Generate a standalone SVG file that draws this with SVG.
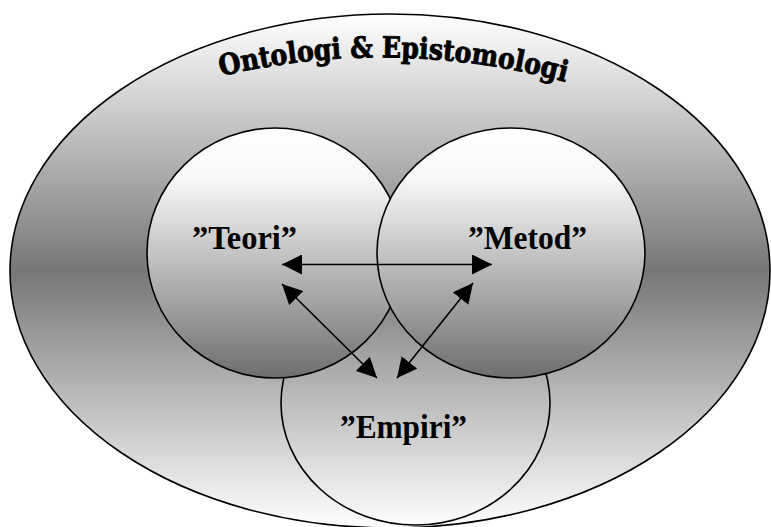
<svg xmlns="http://www.w3.org/2000/svg" width="771" height="527" viewBox="0 0 771 527">
<style>
.outline{stroke:#000;stroke-width:1.6}
.lbl{font-family:"Liberation Serif","Times New Roman",serif;font-weight:bold;font-size:34px;fill:#000}
.title{font-family:"DejaVu Serif","Liberation Serif",serif;font-weight:bold;font-size:29px;fill:#000;stroke:#000;stroke-width:0.9}
.conn{stroke:#000;stroke-width:1.6;fill:none}
</style>
<defs>
<linearGradient id="bgGrad" gradientUnits="userSpaceOnUse" x1="0" y1="14" x2="0" y2="528">
<stop offset="0" stop-color="#ffffff"/>
<stop offset="0.5" stop-color="#777777"/>
<stop offset="1" stop-color="#ffffff"/>
</linearGradient>
<linearGradient id="innerGrad" x1="0" y1="0" x2="0" y2="1">
<stop offset="0" stop-color="#ffffff"/>
<stop offset="0.2" stop-color="#f8f8f8"/>
<stop offset="1" stop-color="#6e6e6e"/>
</linearGradient>
<marker id="ah" markerUnits="userSpaceOnUse" markerWidth="20" markerHeight="20" refX="20" refY="10" orient="auto-start-reverse" viewBox="0 0 20 20">
<path d="M0,0 L20,10 L0,20 z" fill="#000"/>
</marker>
<path id="arc" d="M 221 76 Q 392 36 566 82"/>
</defs>
<g id="outer">
<ellipse cx="390" cy="271" rx="380" ry="257" fill="url(#bgGrad)" class="outline"/>
<text class="title"><textPath href="#arc" startOffset="0" textLength="348" lengthAdjust="spacingAndGlyphs">Ontologi &amp; Epistomologi</textPath></text>
</g>
<g id="empiri">
<ellipse cx="415.5" cy="403" rx="134.5" ry="122" fill="url(#bgGrad)" class="outline"/>
</g>
<g id="teori">
<ellipse cx="275" cy="253" rx="128" ry="125" fill="url(#innerGrad)" class="outline"/>
</g>
<g id="metod">
<ellipse cx="511" cy="253" rx="134" ry="125" fill="url(#innerGrad)" class="outline"/>
</g>
<g id="labels">
<text class="lbl" x="192" y="249" textLength="105" lengthAdjust="spacingAndGlyphs">”Teori”</text>
<text class="lbl" x="468" y="249" textLength="119" lengthAdjust="spacingAndGlyphs">”Metod”</text>
<text class="lbl" x="340" y="438" textLength="127" lengthAdjust="spacingAndGlyphs">”Empiri”</text>
</g>
<g id="connectors">
<line class="conn" x1="282" y1="264.5" x2="492" y2="264.5" marker-start="url(#ah)" marker-end="url(#ah)"/>
<line class="conn" x1="282" y1="284" x2="377" y2="378" marker-start="url(#ah)" marker-end="url(#ah)"/>
<line class="conn" x1="473" y1="283" x2="397" y2="378" marker-start="url(#ah)" marker-end="url(#ah)"/>
</g>
</svg>
